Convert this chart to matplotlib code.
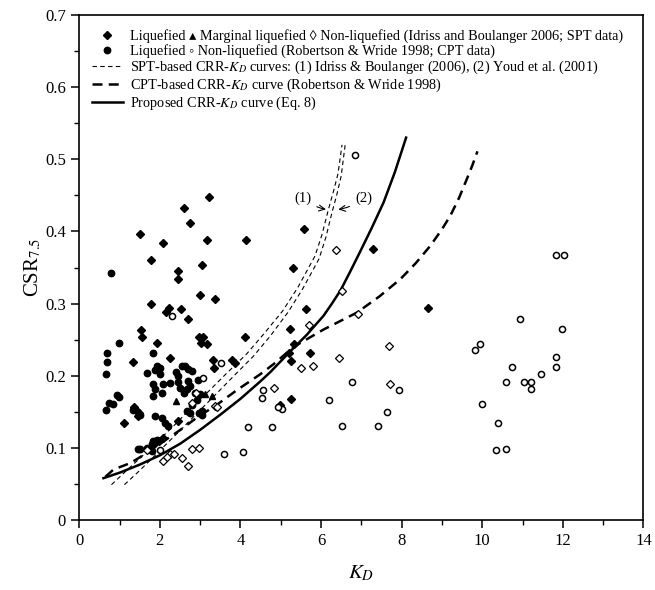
import numpy as np
import matplotlib
matplotlib.use('Agg')
import matplotlib.pyplot as plt
from matplotlib.lines import Line2D
from matplotlib.ticker import MultipleLocator

plt.rcParams['font.family'] = ['Liberation Serif', 'DejaVu Serif', 'DejaVu Sans']
plt.rcParams['mathtext.fontset'] = 'stix'

# liquefied, SPT (Idriss & Boulanger 2006)
liq_spt_k = [3.23, 2.61, 2.74, 1.50, 2.09, 3.18, 4.13, 1.77, 2.46, 2.44, 3.05, 2.99, 3.36, 1.77,
             2.22, 2.15, 2.53, 2.70, 5.58, 7.29, 5.30, 5.63, 8.65, 5.24, 5.32, 5.21, 5.26, 5.73,
             5.26, 4.99, 1.54, 1.55, 1.92, 4.12, 2.96, 3.08, 3.02, 3.17, 3.33, 3.35, 3.79, 3.87,
             1.33, 2.26, 1.35, 1.43, 1.49, 1.47, 1.12, 2.46, 2.07, 1.97, 1.89]
liq_spt_csr = [0.448, 0.433, 0.411, 0.396, 0.384, 0.388, 0.388, 0.361, 0.345, 0.334, 0.354, 0.312,
               0.307, 0.300, 0.294, 0.288, 0.292, 0.279, 0.403, 0.375, 0.349, 0.293, 0.294, 0.265,
               0.2435, 0.231, 0.221, 0.231, 0.168, 0.159, 0.263, 0.253, 0.245, 0.253, 0.253, 0.253,
               0.246, 0.2435, 0.222, 0.211, 0.222, 0.218, 0.219, 0.224, 0.156, 0.151, 0.149, 0.144,
               0.134, 0.137, 0.114, 0.109, 0.107]

# marginal liquefied, SPT
marg_k = [3.13, 3.30, 2.40]
marg_csr = [0.175, 0.172, 0.165]

# non-liquefied, SPT
nonliq_spt_k = [6.38, 6.53, 6.91, 5.71, 7.69, 5.51, 5.81, 6.45, 7.70, 4.82, 2.07, 2.26, 2.56, 2.71,
                2.80, 2.96, 1.68, 2.34, 2.17, 3.37, 2.80, 2.90, 3.42]
nonliq_spt_csr = [0.374, 0.318, 0.286, 0.271, 0.241, 0.211, 0.214, 0.225, 0.189, 0.183, 0.082, 0.091,
                  0.086, 0.075, 0.0986, 0.100, 0.097, 0.092, 0.0875, 0.158, 0.1625, 0.176, 0.156]

# liquefied, CPT (Robertson & Wride 1998)
liq_cpt_k = [0.79, 0.98, 0.69, 0.69, 0.66, 0.66, 0.73, 0.83, 0.94, 0.98, 1.83, 1.93, 2.01, 1.89,
             1.68, 2.01, 2.55, 2.63, 2.71, 2.41, 2.46, 2.80, 1.84, 2.09, 2.24, 1.89, 2.05, 1.84,
             2.46, 2.51, 2.59, 2.67, 2.75, 2.71, 2.88, 3.00, 2.92, 2.80, 3.00, 3.04, 2.75, 2.67,
             1.33, 1.51, 1.89, 2.05, 2.12, 2.20, 1.84, 1.93, 1.80, 1.51, 1.68, 1.47, 1.72, 1.80,
             2.96, 3.04, 2.95]
liq_cpt_csr = [0.343, 0.245, 0.232, 0.219, 0.202, 0.153, 0.1625, 0.1615, 0.173, 0.171, 0.231, 0.213,
               0.211, 0.208, 0.204, 0.202, 0.2135, 0.214, 0.209, 0.205, 0.1996, 0.2065, 0.189, 0.189,
               0.190, 0.182, 0.176, 0.172, 0.191, 0.183, 0.176, 0.181, 0.186, 0.193, 0.176, 0.174,
               0.167, 0.160, 0.149, 0.151, 0.149, 0.151, 0.153, 0.146, 0.144, 0.142, 0.135, 0.131,
               0.109, 0.1115, 0.105, 0.098, 0.100, 0.098, 0.099, 0.095, 0.149, 0.146, 0.194]

# non-liquefied, CPT
nonliq_cpt_k = [6.83, 9.95, 9.83, 6.77, 7.93, 4.55, 4.54, 6.19, 5.03, 4.92, 7.63, 4.19, 4.79, 6.51,
                7.42, 4.07, 3.60, 2.30, 3.51, 3.07, 11.82, 12.02, 10.93, 11.99, 10.74, 11.83, 11.83,
                10.58, 11.04, 11.20, 11.20, 11.45, 10.00, 10.38, 10.35, 10.60, 2.00]
nonliq_cpt_csr = [0.506, 0.2435, 0.236, 0.192, 0.180, 0.180, 0.169, 0.167, 0.154, 0.157, 0.150, 0.129,
                  0.129, 0.130, 0.130, 0.094, 0.092, 0.283, 0.217, 0.197, 0.367, 0.367, 0.278, 0.265,
                  0.212, 0.226, 0.212, 0.191, 0.192, 0.191, 0.181, 0.202, 0.161, 0.135, 0.097, 0.099,
                  0.097]

# curves
spt1_k = [0.80, 1.20, 1.55, 1.88, 2.30, 2.72, 3.22, 3.65, 4.15, 4.58, 5.05, 5.42, 5.85, 6.02, 6.18,
          6.32, 6.42, 6.52]
spt1_csr = [0.049, 0.070, 0.088, 0.106, 0.128, 0.152, 0.179, 0.203, 0.230, 0.258, 0.290, 0.322, 0.366,
            0.395, 0.430, 0.458, 0.480, 0.520]
spt2_k = [1.12, 1.45, 1.80, 2.12, 2.52, 2.94, 3.42, 3.84, 4.32, 4.74, 5.18, 5.54, 5.95, 6.12, 6.27,
          6.40, 6.50, 6.60]
spt2_csr = [0.049, 0.066, 0.085, 0.103, 0.125, 0.149, 0.176, 0.200, 0.227, 0.255, 0.288, 0.320, 0.362,
            0.392, 0.426, 0.453, 0.477, 0.521]
cpt_k = [0.65, 0.85, 1.27, 1.68, 2.09, 2.51, 2.92, 3.42, 3.91, 4.49, 4.82, 5.32, 6.06, 6.89, 7.45,
         7.97, 8.35, 8.71, 9.00, 9.21, 9.42, 9.62, 9.75, 9.88]
cpt_csr = [0.060, 0.070, 0.079, 0.093, 0.109, 0.125, 0.142, 0.160, 0.180, 0.202, 0.216, 0.240, 0.264,
           0.2875, 0.310, 0.334, 0.356, 0.380, 0.403, 0.422, 0.446, 0.473, 0.491, 0.511]
prop_k = [0.60, 1.02, 1.51, 2.01, 2.51, 3.00, 3.50, 4.00, 4.49, 4.74, 5.24, 5.65, 6.06, 6.27, 6.48,
          6.72, 6.97, 7.25, 7.55, 7.83, 8.11]
prop_csr = [0.058, 0.066, 0.077, 0.090, 0.106, 0.125, 0.146, 0.168, 0.192, 0.205, 0.234, 0.257, 0.283,
            0.300, 0.318, 0.344, 0.372, 0.404, 0.440, 0.482, 0.530]

fig = plt.figure(figsize=(6.55, 5.9), dpi=100)
ax = fig.add_axes([0.121, 0.1186, 0.8614, 0.856])

ax.plot(spt1_k, spt1_csr, color='black', lw=0.8, ls=(0, (4, 3)))
ax.plot(spt2_k, spt2_csr, color='black', lw=0.8, ls=(0, (4, 3)))
ax.plot(cpt_k, cpt_csr, color='black', lw=1.8, ls=(0, (4, 2.5)))
ax.plot(prop_k, prop_csr, color='black', lw=1.8, ls='-')

ax.plot(liq_spt_k, liq_spt_csr, ls='none', marker='D', ms=4.0, mfc='black', mec='black')
ax.plot(liq_cpt_k, liq_cpt_csr, ls='none', marker='o', ms=4.6, mfc='black', mec='black')
ax.plot(marg_k, marg_csr, ls='none', marker='^', ms=4.2, mfc='black', mec='black')
ax.plot(nonliq_spt_k, nonliq_spt_csr, ls='none', marker='D', ms=3.6, mfc='white', mec='black', mew=0.9)
ax.plot(nonliq_cpt_k, nonliq_cpt_csr, ls='none', marker='o', ms=4.4, mfc='white', mec='black', mew=1.1)

ax.annotate('(1)', xy=(6.19, 0.430), xytext=(5.55, 0.446), fontsize=10.5, ha='center', va='center',
            arrowprops=dict(arrowstyle='->', color='black', lw=0.8, connectionstyle='arc3,rad=0.15'))
ax.annotate('(2)', xy=(6.36, 0.430), xytext=(7.05, 0.446), fontsize=10.5, ha='center', va='center',
            arrowprops=dict(arrowstyle='->', color='black', lw=0.8, connectionstyle='arc3,rad=-0.15'))

ax.set_xlim(0, 14)
ax.set_ylim(0, 0.7)
ax.xaxis.set_major_locator(MultipleLocator(2))
ax.xaxis.set_minor_locator(MultipleLocator(1))
ax.yaxis.set_major_locator(MultipleLocator(0.1))
ax.yaxis.set_minor_locator(MultipleLocator(0.05))
ax.yaxis.set_major_formatter(plt.FuncFormatter(lambda v, p: '0' if v == 0 else '%.1f' % v))
ax.tick_params(which='major', direction='out', length=6, width=1.1, labelsize=12)
ax.tick_params(which='minor', direction='out', length=3.5, width=1.0)
for s in ax.spines.values():
    s.set_linewidth(1.2)

ax.set_xlabel('$K_D$', fontsize=15, labelpad=10)
ax.set_ylabel('CSR$_{7.5}$', fontsize=15, labelpad=1)

handles = [
    Line2D([], [], ls='none', marker='D', ms=4.0, color='black'),
    Line2D([], [], ls='none', marker='o', ms=4.6, color='black'),
    Line2D([], [], color='black', lw=0.8, ls=(0, (4, 3))),
    Line2D([], [], color='black', lw=1.8, ls=(0, (4, 2.5))),
    Line2D([], [], color='black', lw=1.8),
]
labels = [
    'Liquefied \u25b4 Marginal liquefied \u25ca Non-liquefied (Idriss and Boulanger 2006; SPT data)',
    'Liquefied \u25e6 Non-liquefied (Robertson & Wride 1998; CPT data)',
    'SPT-based CRR-$K_D$ curves: (1) Idriss & Boulanger (2006), (2) Youd et al. (2001)',
    'CPT-based CRR-$K_D$ curve (Robertson & Wride 1998)',
    'Proposed CRR-$K_D$ curve (Eq. 8)',
]
ax.legend(handles, labels, loc='upper left', bbox_to_anchor=(0.022, 0.972), frameon=False,
          fontsize=10.3, handlelength=2.2, handletextpad=0.45, labelspacing=0.05,
          borderpad=0, borderaxespad=0)

fig.savefig('out.png', dpi=100)
